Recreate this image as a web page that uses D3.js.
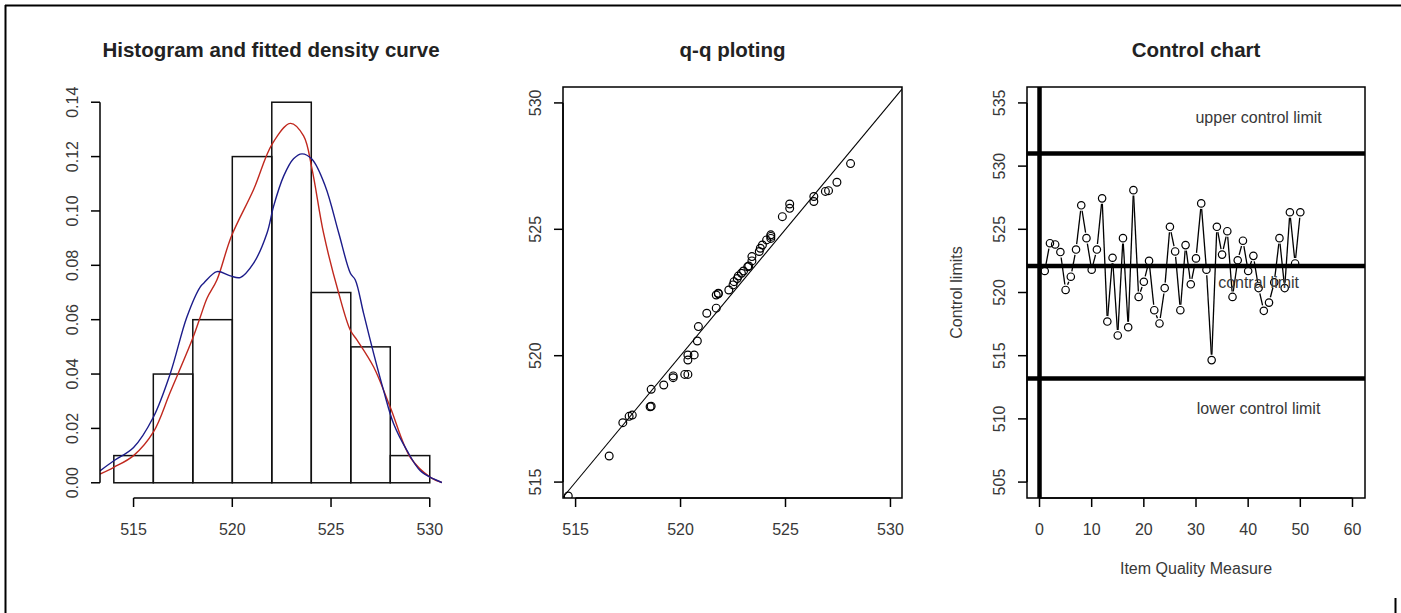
<!DOCTYPE html>
<html>
<head>
<meta charset="utf-8">
<script src="https://cdn.jsdelivr.net/npm/d3@7"></script>
<style>
  body { margin: 0; background: #fff; }
  svg text { font-family: "Liberation Sans", Arial, sans-serif; }
</style>
</head>
<body>
<div id="chart"></div>
<script>
// ---- histogram ----
const histBreaks = [514, 516, 518, 520, 522, 524, 526, 528, 530];
const histDensity = [0.01, 0.04, 0.06, 0.12, 0.14, 0.07, 0.05, 0.01];

// fitted density curves
const redX = [513.3, 514.0, 515.0, 516.0, 516.86, 517.96, 518.38, 518.72, 519.22, 519.95, 521.08, 522.01, 522.94, 523.61, 524.04, 524.62, 525.39, 525.98, 526.32, 527.16, 528.0, 529.02, 530.03, 530.62];
const redY = [0.0032, 0.0057, 0.0100, 0.0186, 0.0334, 0.0525, 0.0610, 0.0679, 0.0746, 0.0906, 0.1079, 0.1245, 0.1322, 0.1276, 0.1153, 0.0919, 0.0697, 0.0561, 0.0525, 0.0426, 0.0278, 0.0093, 0.0020, 0.0001];
const blueX = [513.3, 514.0, 515.0, 516.0, 516.86, 517.7, 518.38, 518.55, 519.22, 519.9, 520.4, 521.08, 521.76, 522.09, 522.6, 523.1, 523.53, 524.04, 524.71, 525.39, 525.98, 526.23, 526.65, 527.16, 527.66, 528.17, 528.85, 529.52, 530.2, 530.62];
const blueY = [0.0044, 0.0081, 0.0130, 0.0241, 0.0402, 0.0610, 0.0721, 0.0734, 0.0777, 0.0761, 0.0755, 0.0808, 0.0919, 0.1017, 0.1128, 0.1192, 0.1210, 0.1190, 0.1091, 0.0919, 0.0771, 0.0746, 0.0623, 0.0475, 0.0340, 0.0217, 0.0118, 0.0044, 0.0014, 0.0001];

// ---- q-q plot ----
const qqSample = [514.65, 516.6, 517.25, 517.55, 517.7, 518.55, 518.6, 518.6, 519.2, 519.65, 519.65, 520.2, 520.35, 520.35, 520.35, 520.65, 520.8, 520.85, 521.25, 521.7, 521.7, 521.8, 521.8, 522.3, 522.5, 522.55, 522.7, 522.75, 522.9, 523.0, 523.2, 523.25, 523.4, 523.4, 523.75, 523.8, 523.9, 524.1, 524.3, 524.3, 524.3, 524.85, 525.2, 525.2, 526.35, 526.35, 526.9, 527.05, 527.45, 528.1];
const qqTheoretical = [514.45, 516.03, 517.35, 517.6, 517.65, 517.98, 518.0, 518.67, 518.84, 519.13, 519.2, 519.26, 519.26, 519.83, 520.03, 520.03, 520.58, 521.15, 521.68, 521.88, 522.4, 522.45, 522.47, 522.6, 522.8, 522.93, 523.05, 523.15, 523.26, 523.35, 523.52, 523.55, 523.75, 523.92, 524.12, 524.25, 524.38, 524.58, 524.64, 524.72, 524.78, 525.5, 525.83, 526.0, 526.1, 526.3, 526.5, 526.53, 526.86, 527.6];

// ---- control chart ----
const controlValues = [521.7, 523.9, 523.8, 523.2, 520.2, 521.25, 523.4, 526.9, 524.3, 521.8, 523.4, 527.45, 517.7, 522.75, 516.6, 524.3, 517.25, 528.1, 519.65, 520.85, 522.5, 518.6, 517.55, 520.35, 525.2, 523.25, 518.6, 523.75, 520.65, 522.7, 527.05, 521.8, 514.65, 525.2, 523.0, 524.85, 519.65, 522.55, 524.1, 521.7, 522.9, 520.35, 518.55, 519.2, 520.8, 524.3, 520.35, 526.35, 522.3, 526.35];
const limitValues = [531.0, 522.1, 513.2];
const limitLabels = ["upper control limit", "contral limit", "lower control limit"];
const limitLabelY = [533.9, 520.8, 510.9];
const limitLabelX = 42;

// ---- ticks ----
const histXTicks = [515, 520, 525, 530];
const histYTicks = [0, 0.02, 0.04, 0.06, 0.08, 0.10, 0.12, 0.14];
const qqTicks = [515, 520, 525, 530];
const ctrlXTicks = [0, 10, 20, 30, 40, 50, 60];
const ctrlYTicks = [505, 510, 515, 520, 525, 530, 535];

const width = 1401, height = 613;
const plotTop = 87, plotBottom = 498;

const svg = d3.select("#chart").append("svg")
  .attr("width", width).attr("height", height);

// page frame (cropped screenshot border)
svg.append("line").attr("x1", 5).attr("x2", width).attr("y1", 5.5).attr("y2", 5.5).attr("stroke", "#000").attr("stroke-width", 2);
svg.append("line").attr("x1", 5.5).attr("x2", 5.5).attr("y1", 5).attr("y2", height).attr("stroke", "#000").attr("stroke-width", 2);
svg.append("line").attr("x1", 1395.5).attr("x2", 1395.5).attr("y1", 598).attr("y2", 613).attr("stroke", "#000").attr("stroke-width", 2);

const tickLen = 9;
const labelColor = "#383838";

function title(cx, text) {
  svg.append("text").attr("x", cx).attr("y", 57)
    .attr("text-anchor", "middle").attr("font-size", 20.5).attr("font-weight", "bold")
    .attr("fill", "#222").text(text);
}

function bottomAxis(scale, ticks, y, fmt) {
  const g = svg.append("g");
  g.append("line").attr("x1", scale(ticks[0])).attr("x2", scale(ticks[ticks.length - 1]))
    .attr("y1", y).attr("y2", y).attr("stroke", "#000").attr("stroke-width", 1.5);
  ticks.forEach(t => {
    g.append("line").attr("x1", scale(t)).attr("x2", scale(t)).attr("y1", y).attr("y2", y + tickLen)
      .attr("stroke", "#000").attr("stroke-width", 1.5);
    g.append("text").attr("x", scale(t)).attr("y", y + 37).attr("text-anchor", "middle")
      .attr("font-size", 16).attr("fill", labelColor).text(fmt ? fmt(t) : t);
  });
}

function leftAxis(scale, ticks, x, fmt) {
  const g = svg.append("g");
  g.append("line").attr("y1", scale(ticks[0])).attr("y2", scale(ticks[ticks.length - 1]))
    .attr("x1", x).attr("x2", x).attr("stroke", "#000").attr("stroke-width", 1.5);
  ticks.forEach(t => {
    g.append("line").attr("y1", scale(t)).attr("y2", scale(t)).attr("x1", x).attr("x2", x - tickLen)
      .attr("stroke", "#000").attr("stroke-width", 1.5);
    g.append("text")
      .attr("transform", `translate(${x - 22},${scale(t)}) rotate(-90)`)
      .attr("text-anchor", "middle").attr("font-size", 16).attr("fill", labelColor)
      .text(fmt ? fmt(t) : t);
  });
}

function box(x0, x1) {
  svg.append("rect").attr("x", x0).attr("y", plotTop).attr("width", x1 - x0).attr("height", plotBottom - plotTop)
    .attr("fill", "none").attr("stroke", "#000").attr("stroke-width", 1.5);
}

function clip(id, x0, x1) {
  svg.append("clipPath").attr("id", id).append("rect")
    .attr("x", x0).attr("y", plotTop).attr("width", x1 - x0).attr("height", plotBottom - plotTop);
}

// ================= Panel 1: histogram =================
const h0 = 100, h1 = 442;
const xH = d3.scaleLinear().domain([513.3, 530.62]).range([h0, h1]);
const yH = d3.scaleLinear().domain([-0.0056, 0.1456]).range([plotBottom, plotTop]);
clip("clipH", h0, h1);

const bins = histDensity.map((d, i) => ({ x0: histBreaks[i], x1: histBreaks[i + 1], d }));
svg.append("g").selectAll("rect").data(bins).join("rect")
  .attr("x", b => xH(b.x0)).attr("width", b => xH(b.x1) - xH(b.x0))
  .attr("y", b => yH(b.d)).attr("height", b => yH(0) - yH(b.d))
  .attr("fill", "none").attr("stroke", "#111").attr("stroke-width", 1.5);

const lineH = d3.line().x(p => xH(p[0])).y(p => yH(p[1])).curve(d3.curveCatmullRom);
svg.append("path").attr("clip-path", "url(#clipH)")
  .attr("d", lineH(redX.map((v, i) => [v, redY[i]])))
  .attr("fill", "none").attr("stroke", "#c0281e").attr("stroke-width", 1.4);
svg.append("path").attr("clip-path", "url(#clipH)")
  .attr("d", lineH(blueX.map((v, i) => [v, blueY[i]])))
  .attr("fill", "none").attr("stroke", "#1c1c8a").attr("stroke-width", 1.4);

bottomAxis(xH, histXTicks, plotBottom);
leftAxis(yH, histYTicks, h0, d3.format(".2f"));
title((h0 + h1) / 2, "Histogram and fitted density curve");

// ================= Panel 2: q-q =================
const q0 = 563, q1 = 902;
const xQ = d3.scaleLinear().domain([514.4, 530.55]).range([q0, q1]);
const yQ = d3.scaleLinear().domain([514.37, 530.63]).range([plotBottom, plotTop]);
clip("clipQ", q0, q1);

const refEnds = [xQ.invert(q0), xQ.invert(q1)];
svg.append("line").attr("clip-path", "url(#clipQ)")
  .attr("x1", xQ(refEnds[0])).attr("y1", yQ(refEnds[0]))
  .attr("x2", xQ(refEnds[1])).attr("y2", yQ(refEnds[1]))
  .attr("stroke", "#000").attr("stroke-width", 1.1);

svg.append("g").attr("clip-path", "url(#clipQ)").selectAll("circle").data(qqSample).join("circle")
  .attr("cx", d => xQ(d)).attr("cy", (d, i) => yQ(qqTheoretical[i])).attr("r", 3.9)
  .attr("fill", "none").attr("stroke", "#000").attr("stroke-width", 1.2);

box(q0, q1);
bottomAxis(xQ, qqTicks, plotBottom);
leftAxis(yQ, qqTicks, q0);
title((q0 + q1) / 2, "q-q ploting");

// ================= Panel 3: control chart =================
const c0 = 1027, c1 = 1365;
const xC = d3.scaleLinear().domain([-2.4, 62.4]).range([c0, c1]);
const yC = d3.scaleLinear().domain([503.74, 536.26]).range([plotBottom, plotTop]);
clip("clipC", c0, c1);

const gC = svg.append("g").attr("clip-path", "url(#clipC)");
limitValues.forEach(v => {
  gC.append("line").attr("x1", c0).attr("x2", c1).attr("y1", yC(v)).attr("y2", yC(v))
    .attr("stroke", "#000").attr("stroke-width", 4.5);
});
gC.append("line").attr("x1", xC(0)).attr("x2", xC(0)).attr("y1", plotTop).attr("y2", plotBottom)
  .attr("stroke", "#000").attr("stroke-width", 4.5);

limitLabels.forEach((t, i) => {
  svg.append("text").attr("x", xC(limitLabelX)).attr("y", yC(limitLabelY[i]) + 6)
    .attr("text-anchor", "middle").attr("font-size", 16).attr("fill", labelColor).text(t);
});

// type = "b": segments with gaps around the points
const pts = controlValues.map((v, i) => [xC(i + 1), yC(v)]);
const gap = 5.5;
for (let i = 0; i < pts.length - 1; i++) {
  const [ax, ay] = pts[i], [bx, by] = pts[i + 1];
  const len = Math.hypot(bx - ax, by - ay);
  if (len <= 2 * gap) continue;
  const ux = (bx - ax) / len, uy = (by - ay) / len;
  gC.append("line")
    .attr("x1", ax + ux * gap).attr("y1", ay + uy * gap)
    .attr("x2", bx - ux * gap).attr("y2", by - uy * gap)
    .attr("stroke", "#000").attr("stroke-width", 1.3);
}
gC.selectAll("circle").data(controlValues).join("circle")
  .attr("cx", (d, i) => xC(i + 1)).attr("cy", d => yC(d)).attr("r", 3.7)
  .attr("fill", "none").attr("stroke", "#000").attr("stroke-width", 1.2);

box(c0, c1);
bottomAxis(xC, ctrlXTicks, plotBottom);
leftAxis(yC, ctrlYTicks, c0);
title((c0 + c1) / 2, "Control chart");

svg.append("text").attr("x", (c0 + c1) / 2).attr("y", 574)
  .attr("text-anchor", "middle").attr("font-size", 16).attr("fill", labelColor).text("Item Quality Measure");
svg.append("text").attr("transform", `translate(962,${(plotTop + plotBottom) / 2}) rotate(-90)`)
  .attr("text-anchor", "middle").attr("font-size", 16).attr("fill", labelColor).text("Control limits");
</script>
</body>
</html>
